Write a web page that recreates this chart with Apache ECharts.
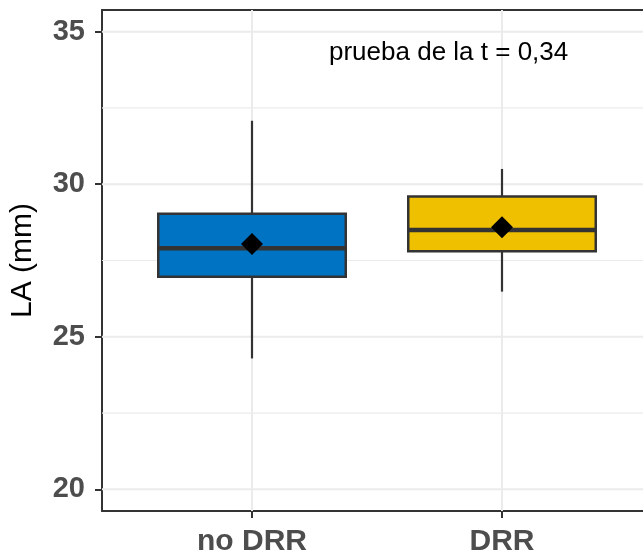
<!DOCTYPE html>
<html>
<head>
<meta charset="utf-8">
<script src="https://cdn.jsdelivr.net/npm/echarts@6/dist/echarts.min.js"></script>
<style>
  html, body { margin: 0; padding: 0; background: #fff; overflow: hidden; }
  #chart { width: 643px; height: 553px; }
</style>
</head>
<body>
<div id="chart"></div>
<script>
// ---- data ----
const categories = ['no DRR', 'DRR'];
const whiskerLow = [24.29, 26.48];
const q1 = [26.97, 27.80];
const median = [27.90, 28.50];
const q3 = [29.03, 29.60];
const whiskerHigh = [32.08, 30.50];
const means = [28.04, 28.59];
const boxColors = ['#0073C2', '#EFC000'];
const yTicks = [20, 25, 30, 35];
const yMinorTicks = [22.5, 27.5, 32.5];
const annotationText = 'prueba de la t = 0,34';

// ---- build ----
const boxData = categories.map((c, i) => [i, whiskerLow[i], q1[i], median[i], q3[i], whiskerHigh[i]]);
const meanData = categories.map((c, i) => [i, means[i]]);
const xIdx = categories.map((c, i) => i);
const X_MIN = -0.6, X_MAX = 1.6, Y_MIN = 19.29, Y_MAX = 35.71;

const FONT = '"Liberation Sans", Arial, sans-serif';
const DARK = '#333333';
const GRIDC = '#EBEBEB';

function hLineItem(width) {
  return function (params, api) {
    const v = api.value(0);
    const a = api.coord([X_MIN, v]);
    const b = api.coord([X_MAX, v]);
    return { type: 'line', shape: { x1: a[0], y1: a[1], x2: b[0], y2: b[1] },
             style: { stroke: GRIDC, lineWidth: width } };
  };
}

const chart = echarts.init(document.getElementById('chart'), null, { renderer: 'canvas' });

chart.setOption({
  animation: false,
  backgroundColor: '#ffffff',
  grid: {
    left: 102, top: 10, right: -9, bottom: 42,
    containLabel: false,
    outerBoundsMode: 'none',
    show: false
  },
  xAxis: [{
    type: 'value',
    min: X_MIN, max: X_MAX,
    axisLine: { show: true, onZero: false, lineStyle: { color: DARK, width: 2 } },
    axisTick: { show: true, customValues: xIdx, length: 7, lineStyle: { color: DARK, width: 2 } },
    axisLabel: {
      customValues: xIdx,
      formatter: v => categories[Math.round(v)] || '',
      fontFamily: FONT, fontWeight: 'bold', fontSize: 30, color: '#4D4D4D', margin: 16
    },
    splitLine: { show: false },
    minorSplitLine: { show: false }
  }, {
    type: 'value',
    position: 'top',
    min: X_MIN, max: X_MAX,
    axisLine: { show: true, onZero: false, lineStyle: { color: DARK, width: 2 } },
    axisTick: { show: false },
    axisLabel: { show: false },
    splitLine: { show: false }
  }],
  yAxis: {
    type: 'value',
    min: Y_MIN, max: Y_MAX,
    name: 'LA (mm)',
    nameLocation: 'middle',
    nameRotate: 90,
    nameGap: 64,
    nameTextStyle: { fontFamily: FONT, fontSize: 30, color: '#000000' },
    axisLine: { show: true, onZero: false, lineStyle: { color: DARK, width: 2 } },
    axisTick: { show: true, customValues: yTicks, length: 7, lineStyle: { color: DARK, width: 2 } },
    axisLabel: {
      customValues: yTicks,
      fontFamily: FONT, fontWeight: 'bold', fontSize: 29, color: '#4D4D4D', margin: 17
    },
    splitLine: { show: false }
  },
  graphic: [{
    type: 'text',
    left: 329, top: 40,
    style: { text: annotationText, fontFamily: FONT, fontSize: 26, fill: '#000000' },
    z: 10
  }, {
    // the reference panel is cropped at the right edge: no right border visible
    type: 'rect',
    right: 0, top: 12,
    shape: { width: 6, height: 497 },
    style: { fill: '#ffffff' },
    silent: true,
    z: 0.5
  }, {
    type: 'rect',
    right: 0, top: 512,
    shape: { width: 6, height: 12 },
    style: { fill: '#ffffff' },
    silent: true,
    z: 0.5
  }],
  series: [
    {
      // major horizontal grid lines
      type: 'custom',
      z: 1,
      silent: true,
      data: yTicks.map(v => [v]),
      encode: { y: 0 },
      renderItem: hLineItem(2)
    },
    {
      // minor horizontal grid lines
      type: 'custom',
      z: 1,
      silent: true,
      data: yMinorTicks.map(v => [v]),
      encode: { y: 0 },
      renderItem: hLineItem(1.2)
    },
    {
      // vertical grid lines at category positions
      type: 'custom',
      z: 1,
      silent: true,
      data: xIdx.map(v => [v]),
      encode: { x: 0 },
      renderItem: function (params, api) {
        const v = api.value(0);
        const a = api.coord([v, Y_MIN]);
        const b = api.coord([v, Y_MAX]);
        return { type: 'line', shape: { x1: a[0], y1: a[1], x2: b[0], y2: b[1] },
                 style: { stroke: GRIDC, lineWidth: 2 } };
      }
    },
    {
      type: 'custom',
      z: 2,
      data: boxData,
      encode: { x: 0, y: [1, 2, 3, 4, 5] },
      renderItem: function (params, api) {
        const x = api.value(0);
        const pLo = api.coord([x, api.value(1)]);
        const pQ1 = api.coord([x, api.value(2)]);
        const pMed = api.coord([x, api.value(3)]);
        const pQ3 = api.coord([x, api.value(4)]);
        const pHi = api.coord([x, api.value(5)]);
        const halfW = api.size([0.75, 0])[0] / 2;
        const i = params.dataIndex;
        return {
          type: 'group',
          children: [
            { type: 'line', shape: { x1: pLo[0], y1: pLo[1], x2: pHi[0], y2: pHi[1] },
              style: { stroke: DARK, lineWidth: 2.2 } },
            { type: 'rect', shape: { x: pQ3[0] - halfW, y: pQ3[1], width: halfW * 2, height: pQ1[1] - pQ3[1] },
              style: { fill: boxColors[i], stroke: DARK, lineWidth: 2.5 } },
            { type: 'line', shape: { x1: pMed[0] - halfW, y1: pMed[1], x2: pMed[0] + halfW, y2: pMed[1] },
              style: { stroke: DARK, lineWidth: 4.5 } }
          ]
        };
      }
    },
    {
      type: 'scatter',
      z: 3,
      data: meanData,
      symbol: 'diamond',
      symbolSize: 22,
      itemStyle: { color: '#000000', opacity: 1 }
    }
  ]
});
</script>
</body>
</html>
